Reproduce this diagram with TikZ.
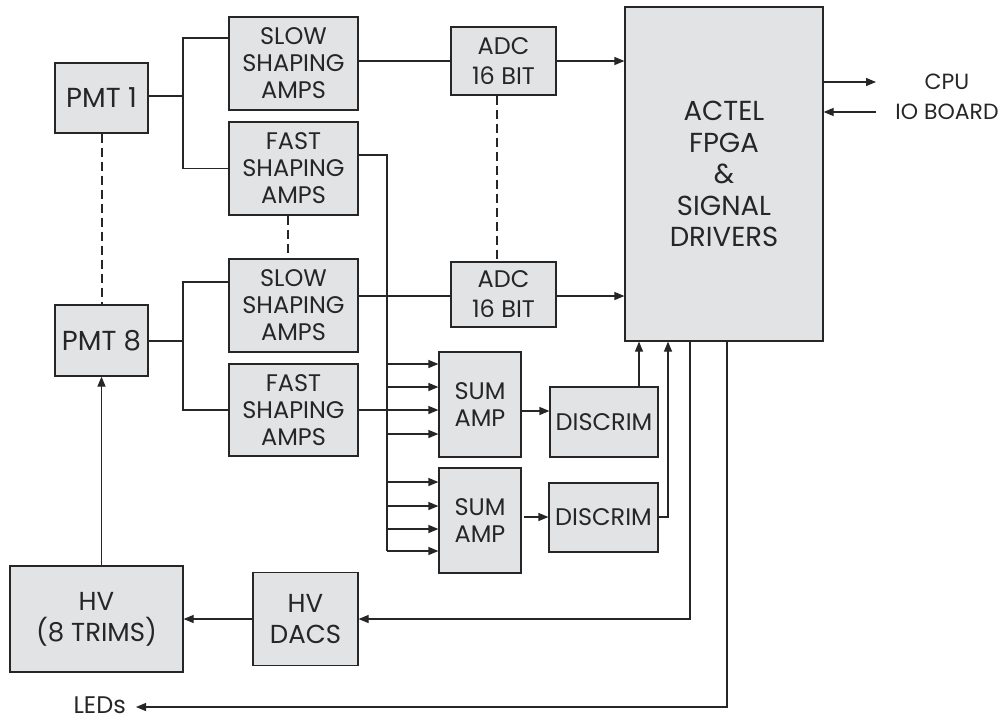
\documentclass[tikz,border=0pt]{standalone}
\usepackage{fontspec}
\setmainfont{Poppins}
\usetikzlibrary{arrows.meta,calc}
\definecolor{boxfill}{HTML}{E2E3E5}
\definecolor{ink}{HTML}{262626}
\begin{document}
\begin{tikzpicture}[x=1pt,y=-1pt,
  blk/.style={draw=ink, fill=boxfill, line width=1.2pt, inner sep=0pt, align=center, text=ink,
    font=\fontsize{24}{27}\selectfont},
  bigtxt/.style={font=\fontsize{27.5}{31.5}\selectfont},
  wire/.style={draw=ink, line width=1.2pt},
  arr/.style={wire, -{Triangle[length=10pt,width=8pt]}},
  dsh/.style={draw=ink, line width=1.2pt, dash pattern=on 9pt off 5pt},
  lbl/.style={text=ink, align=center, inner sep=0pt}]
\useasboundingbox (0,0) rectangle (1003,720);

% boxes
\node[blk, bigtxt, minimum width=93pt, minimum height=70pt] (pmt1) at (101.5,98) {PMT 1};
\node[blk, bigtxt, minimum width=93pt, minimum height=71pt] (pmt8) at (101.5,340.5) {PMT 8};
\node[blk, minimum width=129pt, minimum height=93pt] (slow1) at (293.5,63.5) {SLOW\\SHAPING\\AMPS};
\node[blk, minimum width=129pt, minimum height=93pt] (fast1) at (293.5,168.5) {FAST\\SHAPING\\AMPS};
\node[blk, minimum width=129pt, minimum height=93pt] (slow2) at (293.5,305.5) {SLOW\\SHAPING\\AMPS};
\node[blk, minimum width=129pt, minimum height=92pt] (fast2) at (293.5,410) {FAST\\SHAPING\\AMPS};
\node[blk, font=\fontsize{24}{30}\selectfont, minimum width=105pt, minimum height=68pt] (adc1) at (503.5,61) {ADC\\16 BIT};
\node[blk, font=\fontsize{24}{30}\selectfont, minimum width=105pt, minimum height=65pt] (adc2) at (503.5,294.5) {ADC\\16 BIT};
\node[blk, bigtxt, minimum width=198pt, minimum height=334pt] (fpga) at (724,174) {ACTEL\\FPGA\\\&\\SIGNAL\\DRIVERS};
\node[blk, minimum width=82pt, minimum height=105pt] (sum1) at (480,404.5) {SUM\\AMP};
\node[blk, minimum width=82pt, minimum height=105pt] (sum2) at (480,520.5) {SUM\\AMP};
\node[blk, minimum width=108pt, minimum height=70pt] (disc1) at (604,422) {DISCRIM};
\node[blk, minimum width=109pt, minimum height=69pt] (disc2) at (603.5,517.5) {DISCRIM};
\node[blk, font=\fontsize{26}{31}\selectfont, minimum width=173pt, minimum height=106pt] (hv) at (96.5,619) {HV\\(8 TRIMS)};
\node[blk, font=\fontsize{26}{31}\selectfont, minimum width=105pt, minimum height=93pt] (dacs) at (305.5,619) {HV\\DACS};

% labels
\node[lbl, font=\fontsize{22}{30}\selectfont] (cpu) at (947,97) {CPU\\IO BOARD};
\node[lbl, font=\fontsize{24}{26}\selectfont, anchor=east] (leds) at (126,705) {LEDs};
\coordinate (cpuend) at (876,82);
\coordinate (ioend) at (876,112);

% PMT branches
\coordinate (b1) at (183,96);
\coordinate (b1top) at (183,38);
\draw[wire] (pmt1.east |- b1) -- (b1);
\draw[wire] (slow1.west |- b1top) -| (b1) |- (fast1.west);
\coordinate (b8) at (183,341);
\coordinate (b8top) at (183,282);
\draw[wire] (pmt8.east |- b8) -- (b8);
\draw[wire] (slow2.west |- b8top) -| (b8) |- (fast2.west);

% slow -> adc -> fpga
\draw[wire] (slow1.east |- adc1.west) -- (adc1.west);
\draw[arr] (adc1.east) -- (fpga.west |- adc1.east);
\draw[wire] (slow2.east |- 0,296) -- (adc2.west |- 0,296);
\draw[arr] (adc2.east |- 0,296) -- (fpga.west |- 0,296);

% fast bus to sum amps
\coordinate (bustop) at (387,155);
\coordinate (busbot) at (387,551);
\draw[wire] (fast1.east |- bustop) -- (bustop) -- (busbot);
\foreach \y in {364,387,434} \draw[arr] (387,\y) -- (sum1.west |- 0,\y);
\draw[arr] (fast2.east) -- (sum1.west |- fast2.east);
\foreach \y in {482,506,529,551} \draw[arr] (387,\y) -- (sum2.west |- 0,\y);

% sum -> discrim -> fpga
\draw[arr] (sum1.east |- 0,411) -- (disc1.west |- 0,411);
\draw[arr] ([xshift=2pt]sum2.east |- 0,517) -- (disc2.west |- 0,517);
\draw[arr] (disc1.north -| 639,0) -- (fpga.south -| 639,0);
\draw[arr] (disc2.east |- 0,517) -| (fpga.south -| 668,0);

% fpga -> hv dacs -> hv -> pmt8
\draw[arr] (fpga.south -| 690,0) |- (dacs.east);
\draw[arr] (dacs.west) -- (hv.east |- dacs.west);
\draw[arr] (hv.north -| pmt8.south) -- (pmt8.south);

% LEDs
\draw[arr] (fpga.south -| 727,0) |- ([xshift=10pt]leds.east |- 0,707);

% CPU IO
\draw[arr] (fpga.east |- cpuend) -- (cpuend);
\draw[arr] (ioend) -- (fpga.east |- ioend);

% dashed continuation
\draw[dsh] (pmt1.south -| 102,0) -- (pmt8.north -| 102,0);
\draw[dsh] (fast1.south -| 288,0) -- (slow2.north -| 288,0);
\draw[dsh] (adc1.south -| 497,0) -- (adc2.north -| 497,0);
\end{tikzpicture}
\end{document}
